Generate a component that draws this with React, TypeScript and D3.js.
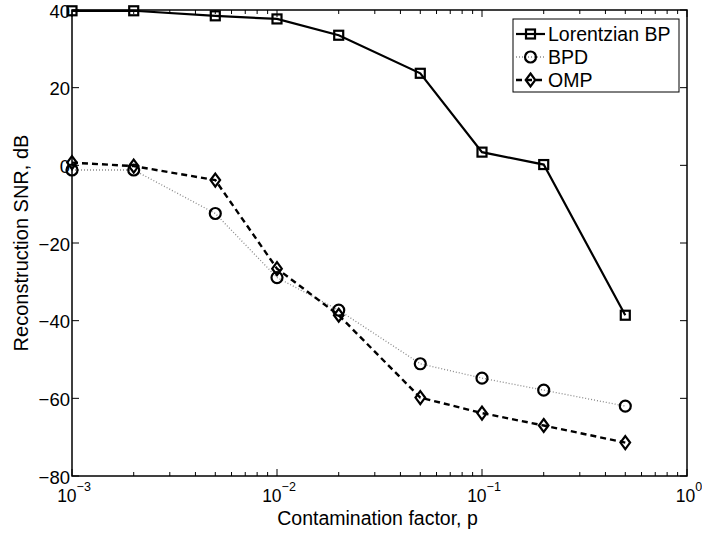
import React from "react";
import * as d3 from "d3";

const xValues = [0.001, 0.002, 0.005, 0.01, 0.02, 0.05, 0.1, 0.2, 0.5];
const lorentzianBP = [39.8, 39.8, 38.5, 37.7, 33.5, 23.7, 3.4, 0.2, -38.6];
const bpd = [-1.2, -1.2, -12.4, -28.9, -37.3, -51.1, -54.8, -57.9, -62.0];
const omp = [0.7, -0.2, -3.8, -26.6, -38.6, -59.8, -63.8, -67.0, -71.4];
const yTicks = [-80, -60, -40, -20, 0, 20, 40];
const xDecades = [-3, -2, -1, 0];
const seriesNames = ["Lorentzian BP", "BPD", "OMP"];

const W = 702, H = 533;
const M = { left: 72, right: 687, top: 10, bottom: 476 };
const FONT = "'Liberation Sans', Arial, Helvetica, sans-serif";

function Marker({ type, x, y }: { type: string; x: number; y: number }) {
  if (type === "square")
    return <rect x={x - 4.5} y={y - 4.5} width={9} height={9} fill="none" stroke="#000" strokeWidth={2.2} />;
  if (type === "circle")
    return <circle cx={x} cy={y} r={5.5} fill="none" stroke="#000" strokeWidth={2.2} />;
  return (
    <path
      d={`M${x},${y - 6.5}L${x + 4.8},${y}L${x},${y + 6.5}L${x - 4.8},${y}Z`}
      fill="none"
      stroke="#000"
      strokeWidth={2.2}
    />
  );
}

export default function App() {
  const x = d3.scaleLog().domain([1e-3, 1]).range([M.left, M.right]);
  const y = d3.scaleLinear().domain([-80, 40]).range([M.bottom, M.top]);
  const line = d3
    .line<number>()
    .x((_, i) => x(xValues[i]))
    .y((d) => y(d));

  const series = [
    { name: seriesNames[0], data: lorentzianBP, marker: "square", stroke: "#000", width: 2.2, dash: "" },
    { name: seriesNames[1], data: bpd, marker: "circle", stroke: "#8a8a8a", width: 1.3, dash: "1,2" },
    { name: seriesNames[2], data: omp, marker: "diamond", stroke: "#000", width: 2.4, dash: "6,4" },
  ];

  const minor: number[] = [];
  for (let dcd = -3; dcd < 0; dcd++) {
    for (let k = 2; k <= 9; k++) minor.push(k * Math.pow(10, dcd));
  }

  const legendX = 513, legendY = 19, legendW = 166, legendH = 73;
  const rowY = [34, 57, 80];

  return (
    <svg width={W} height={H} style={{ position: "absolute", left: 0, top: 0, background: "#fff" }} fontFamily={FONT}>
      <rect x={0} y={0} width={W} height={H} fill="#fff" />
      {series.map((s) => (
        <g key={s.name}>
          <path d={line(s.data) || ""} fill="none" stroke={s.stroke} strokeWidth={s.width} strokeDasharray={s.dash || undefined} />
          {s.data.map((v, i) => (
            <Marker key={i} type={s.marker} x={x(xValues[i])} y={y(v)} />
          ))}
        </g>
      ))}
      <rect x={M.left} y={M.top} width={M.right - M.left} height={M.bottom - M.top} fill="none" stroke="#000" strokeWidth={1.5} />
      {minor.map((t, i) => (
        <g key={"m" + i}>
          <line x1={x(t)} x2={x(t)} y1={M.bottom} y2={M.bottom - 4} stroke="#000" strokeWidth={1} />
          <line x1={x(t)} x2={x(t)} y1={M.top} y2={M.top + 4} stroke="#000" strokeWidth={1} />
        </g>
      ))}
      {xDecades.map((dcd) => {
        const px = x(Math.pow(10, dcd));
        return (
          <g key={"d" + dcd}>
            <line x1={px} x2={px} y1={M.bottom} y2={M.bottom - 7} stroke="#000" strokeWidth={1} />
            <line x1={px} x2={px} y1={M.top} y2={M.top + 7} stroke="#000" strokeWidth={1} />
            <text x={px + 2} y={502} fontSize={17.5} textAnchor="middle" fill="#000">
              10
              <tspan dy={-11} fontSize={12.5}>{dcd < 0 ? "\u2212" + Math.abs(dcd) : "0"}</tspan>
            </text>
          </g>
        );
      })}
      {yTicks.map((t) => (
        <g key={"y" + t}>
          <line x1={M.left} x2={M.left + 7} y1={y(t)} y2={y(t)} stroke="#000" strokeWidth={1} />
          <line x1={M.right} x2={M.right - 7} y1={y(t)} y2={y(t)} stroke="#000" strokeWidth={1} />
          <text x={70} y={y(t) + 7.5} fontSize={18.5} textAnchor="end" fill="#000">
            {t < 0 ? "\u2212" + Math.abs(t) : String(t)}
          </text>
        </g>
      ))}
      <text x={(M.left + M.right) / 2 - 2} y={525} fontSize={19.5} textAnchor="middle" fill="#000">
        Contamination factor, p
      </text>
      <text transform={`translate(28,${(M.top + M.bottom) / 2}) rotate(-90)`} fontSize={20} textAnchor="middle" fill="#000">
        Reconstruction SNR, dB
      </text>
      <rect x={legendX} y={legendY} width={legendW} height={legendH} fill="#fff" stroke="#000" strokeWidth={1} />
      {series.map((s, i) => (
        <g key={"l" + s.name}>
          <line x1={legendX + 3} x2={legendX + 32} y1={rowY[i]} y2={rowY[i]} stroke={s.stroke} strokeWidth={s.width} strokeDasharray={s.dash || undefined} />
          <Marker type={s.marker} x={legendX + 17.5} y={rowY[i]} />
          <text x={legendX + 35} y={rowY[i] + 7} fontSize={19.5} fill="#000">
            {s.name}
          </text>
        </g>
      ))}
    </svg>
  );
}
